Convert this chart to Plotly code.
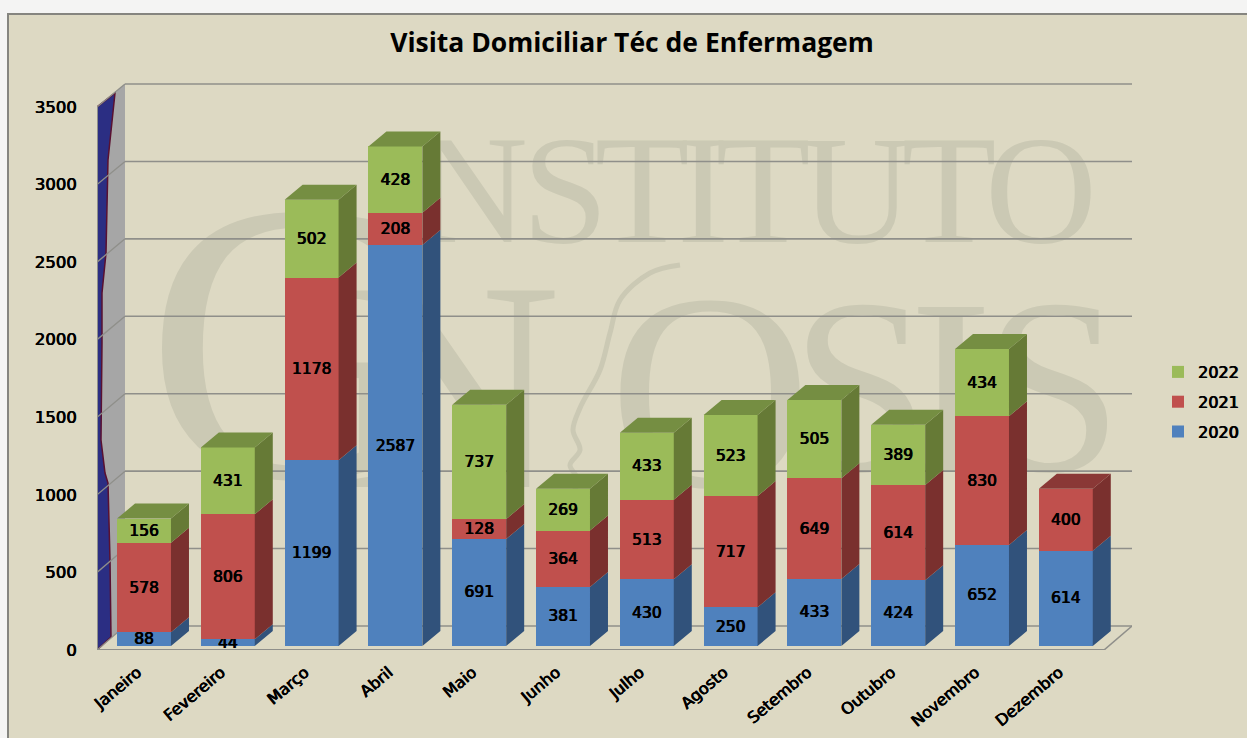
import plotly.graph_objects as go

MONTHS = ["Janeiro","Fevereiro","Março","Abril","Maio","Junho","Julho","Agosto","Setembro","Outubro","Novembro","Dezembro"]
V2020 = [88,44,1199,2587,691,381,430,250,433,424,652,614]
V2021 = [578,806,1178,208,128,364,513,717,649,614,830,400]
V2022 = [156,431,502,428,737,269,433,523,505,389,434,None]
YTICKS = [0,500,1000,1500,2000,2500,3000,3500]
TITLE = "Visita Domiciliar Téc de Enfermagem"

W, H = 1247, 738
PX_PER_CAT = 83.8
PX_PER_UNIT = 0.155
X0_PX, Y0_PX = 144, 646      # pixel of first category / value 0 on the bars' front plane
def xpx(p): return (p - X0_PX) / PX_PER_CAT
def ypx(p): return (Y0_PX - p) / PX_PER_UNIT

BAR_W = 0.644
DX, DY = 18 / PX_PER_CAT, 15 / PX_PER_UNIT
FONT = "DejaVu Sans"
FAUX = "0.6px 0 0 #000000, -0.3px 0 0 #000000"
GRID = "#8F8F8A"
BG = "#DDD9C3"
MARK = "#CBC9B4"

series = [("2020", V2020, "#4F81BD", "#31527B", "#3D6391", 3),
          ("2021", V2021, "#C0504D", "#7A302E", "#8A3836", 2),
          ("2022", V2022, "#9BBB59", "#667A36", "#758E42", 1)]

fig = go.Figure()

# watermark behind everything: first subplot, in page pixels
WM = [("I",400,203,155),("N",472,203,155),("S",565,203,155),("T",642,203,155),("I",703,203,155),
      ("T",763,203,155),("U",857,203,155),("T",949,203,155),("O",1041,203,155),
      ("G",290,377,400),("N",453,412,300),("O",710,416,280),("S",860,408,250),("I",951,408,250),("S",1053,408,250)]
for size in sorted({w[3] for w in WM}):
    sub = [w for w in WM if w[3] == size]
    fig.add_trace(go.Scatter(x=[w[1] for w in sub], y=[w[2] for w in sub], text=[w[0] for w in sub],
                             mode="text", textposition="middle center", xaxis="x", yaxis="y",
                             textfont=dict(family="Liberation Serif", size=size, color=MARK),
                             showlegend=False, hoverinfo="skip", cliponaxis=False))
fig.add_trace(go.Scatter(x=[680,650,620,610,600,580,573,580,570,578,572,585,600],
                         y=[265,273,300,333,370,408,430,450,465,480,500,515,530],
                         mode="lines", line=dict(color=MARK, width=5, shape="spline"),
                         xaxis="x", yaxis="y", showlegend=False, hoverinfo="skip"))

# front faces
for name, vals, col, _, _, rank in series:
    fig.add_trace(go.Bar(x=list(range(12)), y=vals, name=name, width=BAR_W, xaxis="x2", yaxis="y2",
                         marker=dict(color=col, line=dict(width=0)), legendgroup=name, legendrank=rank,
                         text=vals, textposition="inside", insidetextanchor="middle", textangle=0,
                         constraintext="none", cliponaxis=False,
                         insidetextfont=dict(family=FONT, size=15.5, color="#000000", shadow=FAUX)))

# side and top faces, computed from the data
tops = [0] * 12
side_polys = {}
for name, vals, col, side, topc, _ in series:
    sx, sy = [], []
    for i, v in enumerate(vals):
        if v is None:
            continue
        xr = i + BAR_W / 2
        b, t = tops[i], tops[i] + v
        sx += [xr, xr + DX, xr + DX, xr, None]
        sy += [b, b + DY, t + DY, t, None]
        tops[i] = t
    side_polys[name] = (sx, sy, side)
for name, (sx, sy, side) in side_polys.items():
    fig.add_trace(go.Scatter(x=sx, y=sy, mode="lines", line=dict(width=0), fill="toself", fillcolor=side,
                             xaxis="x2", yaxis="y2", showlegend=False, hoverinfo="skip"))
for name, vals, col, side, topc, _ in series:
    tx, ty = [], []
    for i in range(12):
        last = [s for s in series if s[1][i] is not None][-1]
        if last[0] != name:
            continue
        xl, xr = i - BAR_W / 2, i + BAR_W / 2
        t = tops[i]
        tx += [xl, xr, xr + DX, xl + DX, None]
        ty += [t, t, t + DY, t + DY, None]
    fig.add_trace(go.Scatter(x=tx, y=ty, mode="lines", line=dict(width=0), fill="toself", fillcolor=topc,
                             xaxis="x2", yaxis="y2", showlegend=False, hoverinfo="skip"))

# walls, floor, gridlines
FRONT_L, BACK_L, FRONT_R, BACK_R = xpx(97), xpx(125), xpx(1104), xpx(1132)
def yfront(v): return ypx(650 - v * 543 / 3500)
def yback(v): return ypx(626 - v * 542 / 3500)
def path(points, close=True):
    s = "M " + " L ".join(f"{a},{b}" for a, b in points)
    return s + (" Z" if close else "")
shapes = [dict(type="rect", xref="paper", yref="paper", x0=8/W, x1=1.01, y0=-0.01, y1=1-14/H,
               fillcolor=BG, line=dict(color="#85857F", width=2), layer="below")]
s2 = dict(xref="x2", yref="y2", layer="below")
shapes.append(dict(type="path", path=path([(FRONT_L,yfront(0)),(FRONT_L,yfront(3500)),(BACK_L,yback(3500)),(BACK_L,yback(0))]),
                   fillcolor="#A6A6A6", line=dict(width=0), **s2))
blue_edge = [(97,107),(115,93),(108,160),(106,253),(102,293),(102,343),(101,440),(105,473),(108,483),(110,560),(111,637),(97,650)]
shapes.append(dict(type="path", path=path([(xpx(a),ypx(b)) for a,b in blue_edge]),
                   fillcolor="#2B2E83", line=dict(color="#5A1030", width=1.5), **s2))
for v in YTICKS:
    shapes.append(dict(type="line", x0=BACK_L, x1=BACK_R, y0=yback(v), y1=yback(v), line=dict(color=GRID, width=1.6), **s2))
    shapes.append(dict(type="line", x0=FRONT_L, x1=BACK_L, y0=yfront(v), y1=yback(v), line=dict(color=GRID, width=1.3), **s2))
shapes.append(dict(type="line", x0=FRONT_L, x1=FRONT_L, y0=yfront(0), y1=yfront(3500), line=dict(color=GRID, width=2), **s2))
shapes.append(dict(type="line", x0=FRONT_L, x1=FRONT_R, y0=yfront(0), y1=yfront(0), line=dict(color=GRID, width=2), **s2))
shapes.append(dict(type="line", x0=FRONT_R, x1=BACK_R, y0=yfront(0), y1=yback(0), line=dict(color=GRID, width=1.6), **s2))

tickfont = dict(family=FONT, size=16.5, color="#000000", shadow=FAUX)
fig.update_layout(
    width=W, height=H, margin=dict(l=0, r=0, t=0, b=0, autoexpand=False),
    paper_bgcolor="#F4F4F3", plot_bgcolor="rgba(0,0,0,0)",
    barmode="stack", shapes=shapes, hovermode=False,
    title=dict(text=TITLE, x=632/W, xanchor="center", xref="paper", y=1-43/H, yanchor="middle", yref="paper",
               font=dict(family="Open Sans", size=26.5, color="#000000", weight="bold")),
    legend=dict(x=1158/W, xanchor="left", y=1-402/H, yanchor="middle", bgcolor="rgba(0,0,0,0)",
                traceorder="grouped", tracegroupgap=6, itemwidth=30,
                font=dict(family=FONT, size=16, color="#000000", shadow=FAUX)),
    xaxis=dict(domain=[0,1], range=[0,W], visible=False, fixedrange=True),
    yaxis=dict(domain=[0,1], range=[H,0], visible=False, fixedrange=True),
    xaxis2=dict(domain=[97/W,1132/W], range=[xpx(97),xpx(1132)], anchor="y2", showgrid=False, zeroline=False,
                tickmode="array", tickvals=[i - 0.08 for i in range(12)], ticktext=MONTHS, tickangle=-40,
                ticks="outside", ticklen=6, tickcolor="rgba(0,0,0,0)",
                tickfont=dict(family=FONT, size=16, color="#000000", shadow=FAUX),
                showline=False, fixedrange=True),
    yaxis2=dict(domain=[(H-650)/H,(H-60)/H], range=[ypx(650),ypx(60)], anchor="x2", showgrid=False, zeroline=False,
                tickmode="array", tickvals=[yfront(v) for v in YTICKS], ticktext=[str(v) for v in YTICKS],
                ticks="outside", ticklen=16, tickcolor="rgba(0,0,0,0)", tickfont=tickfont,
                showline=False, fixedrange=True),
)

fig.write_html("out.html", config=dict(displayModeBar=False, responsive=False),
               post_script="document.body.style.margin='0';")
